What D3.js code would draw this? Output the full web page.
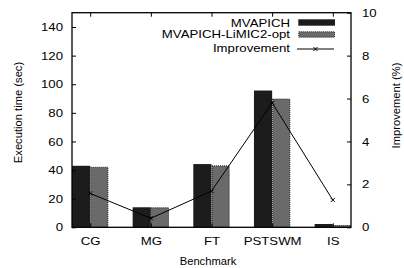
<!DOCTYPE html>
<html><head><meta charset="utf-8">
<script src="https://cdn.jsdelivr.net/npm/d3@7"></script>
<style>body{margin:0;background:#fff}text{font-family:"Liberation Sans",Arial,sans-serif;}</style>
</head><body>
<svg id="c" width="404" height="268"></svg>
<script>
const categories = ["CG","MG","FT","PSTSWM","IS"];
const mvapich = [43, 14, 44.2, 95.6, 2.3];
const limic = [42.3, 14, 43.3, 90, 1.6];
const improvement = [1.58, 0.42, 1.69, 5.8, 1.27];
const leftTicks = [0,20,40,60,80,100,120,140];
const rightTicks = [0,2,4,6,8,10];
const seriesNames = ["MVAPICH","MVAPICH-LiMIC2-opt","Improvement"];

const svg = d3.select("#c");
const L = 72, R = 351, T = 12.7, B = 227.3;
const x = d3.scaleLinear().domain([-0.3, 4.3]).range([L, R]);
const yL = d3.scaleLinear().domain([0,150]).range([B, T]);
const yR = d3.scaleLinear().domain([0,10]).range([B, T]);
const bw = x(0.3) - x(0);
const FS = 11.2, STRETCH = 1.18;

// bars
svg.selectAll(".b1").data(mvapich).enter().append("rect")
  .attr("x",(d,i)=>x(i-0.3)).attr("y",d=>yL(d)).attr("width",bw).attr("height",d=>B-yL(d))
  .attr("fill","#1c1c1c");
svg.selectAll(".b2").data(limic).enter().append("rect")
  .attr("x",(d,i)=>x(i)+0.5).attr("y",d=>yL(d)+0.5).attr("width",bw-1).attr("height",d=>B-yL(d)-0.5)
  .attr("fill","#6a6a6a").attr("stroke","#222").attr("stroke-width",1).attr("stroke-dasharray","1,1");

// line
const line = d3.line().x((d,i)=>x(i)).y(d=>yR(d));
svg.append("path").datum(improvement).attr("d",line).attr("fill","none").attr("stroke","#000").attr("stroke-width",1);
const cross = (g,cx,cy)=>{ const s=2;
  g.append("path").attr("d",`M${cx-s},${cy-s}L${cx+s},${cy+s}M${cx-s},${cy+s}L${cx+s},${cy-s}`).attr("stroke","#000").attr("stroke-width",1);};
improvement.forEach((d,i)=>cross(svg,x(i),yR(d)));

// frame
svg.append("rect").attr("x",L).attr("y",T).attr("width",R-L).attr("height",B-T).attr("fill","none").attr("stroke","#000").attr("stroke-width",1.3);

// axes
const axL = d3.axisLeft(yL).tickValues(leftTicks).tickSize(-4).tickPadding(9);
const gL = svg.append("g").attr("transform",`translate(${L},0)`).call(axL);
const axR = d3.axisRight(yR).tickValues(rightTicks).tickSize(-4).tickPadding(11);
const gR = svg.append("g").attr("transform",`translate(${R},0)`).call(axR);
const axB = d3.axisBottom(x).tickValues(d3.range(categories.length)).tickFormat(i=>categories[i]).tickSize(-4).tickPadding(10);
const gB = svg.append("g").attr("transform",`translate(0,${B})`).call(axB);
const axT = d3.axisTop(x).tickValues(d3.range(categories.length)).tickFormat("").tickSize(-4);
const gT = svg.append("g").attr("transform",`translate(0,${T})`).call(axT);
[gL,gR,gB,gT].forEach(g=>{g.select(".domain").remove();
  g.selectAll("text").attr("font-size",FS).attr("fill","#000").attr("class","stretch").style("font-family","Liberation Sans, Arial, sans-serif");
  g.selectAll("line").attr("stroke","#000");});

// titles
svg.append("text").attr("transform","translate(21.5,112.5) rotate(-90)").attr("text-anchor","middle").attr("font-size",11.2).text("Execution time (sec)");
svg.append("text").attr("transform","translate(400,105.5) rotate(-90)").attr("text-anchor","middle").attr("font-size",11.2).text("Improvement (%)");
svg.append("text").attr("x",208).attr("y",264.5).attr("text-anchor","middle").attr("font-size",11.2).text("Benchmark");

// legend
const lg = svg.append("g");
const ly = [22.7, 34.3, 47.7];
seriesNames.forEach((n,i)=>{
  lg.append("text").attr("class","stretch").attr("x",290).attr("y",ly[i]+4).attr("text-anchor","end").attr("font-size",FS).text(n);
});
lg.append("rect").attr("x",298.3).attr("y",19.3).attr("width",36.7).attr("height",6.4).attr("fill","#1c1c1c");
lg.append("rect").attr("x",298.8).attr("y",31.8).attr("width",35.7).attr("height",5.4).attr("fill","#6a6a6a").attr("stroke","#222").attr("stroke-dasharray","1,1");
lg.append("line").attr("x1",297).attr("x2",334).attr("y1",49).attr("y2",49).attr("stroke","#000");
cross(lg,315.5,49);

// horizontal stretch of tick & legend labels
svg.selectAll("text.stretch").each(function(){
  const w = this.getComputedTextLength();
  d3.select(this).attr("textLength", w*STRETCH).attr("lengthAdjust","spacingAndGlyphs");
});
</script>
</body></html>
